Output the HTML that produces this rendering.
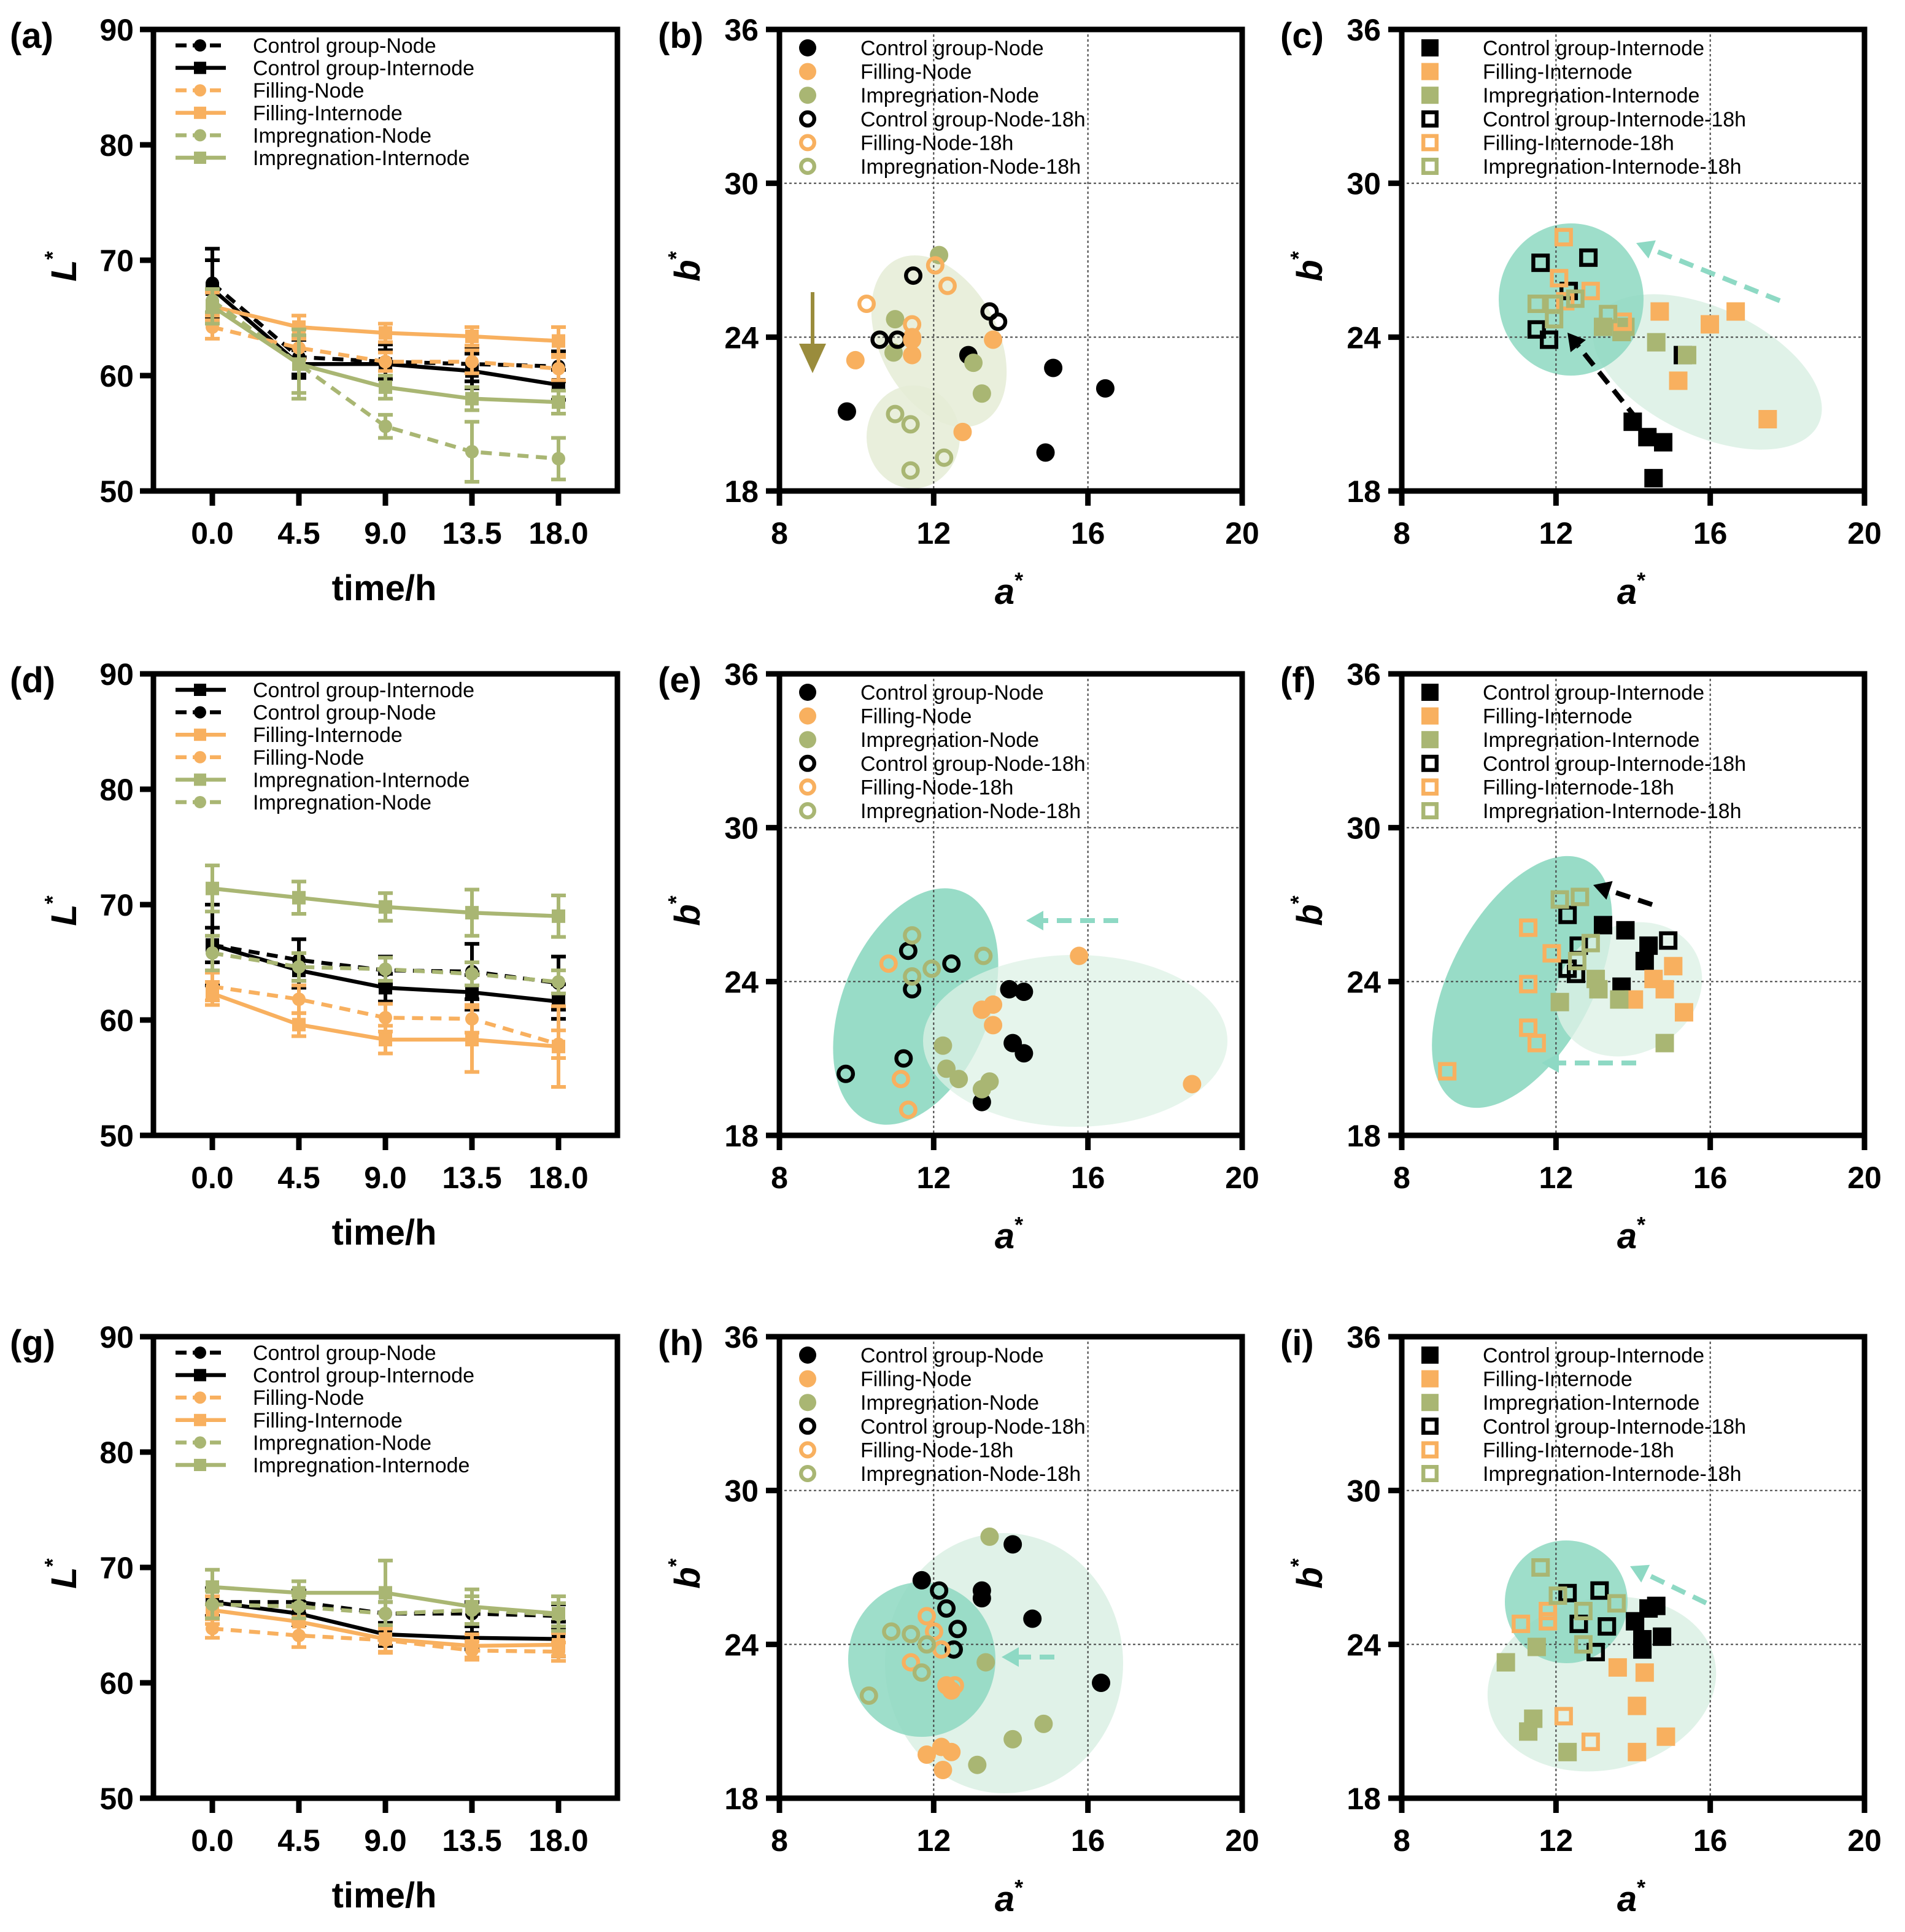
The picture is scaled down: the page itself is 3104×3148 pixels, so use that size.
<!DOCTYPE html>
<html><head><meta charset="utf-8">
<style>
html,body{margin:0;padding:0;background:#fff;}
svg{display:block;font-family:"Liberation Sans",Arial,sans-serif;}
</style></head>
<body>
<svg id="fig" xmlns="http://www.w3.org/2000/svg" width="3104" height="3148" viewBox="0 0 1552 1574"></svg>
<script>
// ---------- line chart data (L* vs time) ----------
const times = [0, 4.5, 9, 13.5, 18];
const timeLabels = ["0.0", "4.5", "9.0", "13.5", "18.0"];
const lTicks = [50, 60, 70, 80, 90];
// panel a
const aCtrlNode = [68, 61.6, 61.2, 61, 60.8];
const aCtrlInter = [67.5, 61, 61, 60.4, 59.2];
const aFillNode = [64.2, 62.4, 61.2, 61.2, 60.6];
const aFillInter = [66, 64.2, 63.7, 63.4, 63];
const aImpNode = [66.5, 61, 55.6, 53.4, 52.8];
const aImpInter = [66, 61, 59, 58, 57.7];
const aErrCtrlNode = [3, 1.5, 1.5, 1.5, 1.3];
const aErrCtrlInter = [2.5, 1.2, 1.2, 1.5, 1.3];
const aErrFillNode = [1, 1, 0.8, 1, 1];
const aErrFillInter = [1.2, 1, 0.8, 0.8, 1.2];
const aErrImpNode = [1, 2.5, 1, 2.6, 1.8];
const aErrImpInter = [1.5, 3, 1, 1, 1];
// panel d
const dCtrlInter = [66.5, 64.3, 62.8, 62.4, 61.6];
const dCtrlNode = [66.5, 65.2, 64.3, 64.2, 63.2];
const dFillInter = [62.3, 59.6, 58.3, 58.3, 57.7];
const dFillNode = [62.9, 61.8, 60.2, 60.1, 57.9];
const dImpInter = [71.4, 70.6, 69.8, 69.3, 69.0];
const dImpNode = [65.8, 64.6, 64.4, 64.0, 63.3];
const dErrCtrlInter = [1.5, 1.5, 1.2, 1.5, 1.5];
const dErrCtrlNode = [3.5, 1.8, 1.2, 2.4, 2.3];
const dErrFillInter = [1, 1, 1.2, 2.8, 3.5];
const dErrFillNode = [1.2, 1.2, 1.2, 1.2, 1.2];
const dErrImpInter = [2, 1.4, 1.2, 2, 1.8];
const dErrImpNode = [1.5, 1.2, 1, 1, 1];
// panel g
const gCtrlNode = [67, 67, 66, 66, 65.8];
const gCtrlInter = [67, 66, 64.2, 63.9, 63.8];
const gFillNode = [64.7, 64.1, 63.7, 62.8, 62.7];
const gFillInter = [66.3, 65.3, 63.8, 63.2, 63.3];
const gImpNode = [66.8, 66.6, 66, 66.3, 65.9];
const gImpInter = [68.3, 67.8, 67.8, 66.6, 66];
const gErrCtrlNode = [1.2, 1, 1, 1, 1];
const gErrCtrlInter = [1.2, 1, 1, 1, 1.5];
const gErrFillNode = [0.8, 1, 1, 0.8, 0.8];
const gErrFillInter = [1.2, 1.2, 1.2, 1, 1];
const gErrImpNode = [1.2, 1, 1, 1.2, 1];
const gErrImpInter = [1.5, 1, 2.8, 1.5, 1.5];

// ---------- scatter data (a*, b*) ----------
const aTicks = [8, 12, 16, 20];
const bTicks = [18, 24, 30, 36];
// panel b (Node)
const bCtrlA = [9.75, 12.9, 15.1, 16.45, 14.9];       const bCtrlB = [21.1, 23.3, 22.8, 22.0, 19.5];
const bFillA = [9.97, 11.44, 11.44, 13.54, 12.75];    const bFillB = [23.1, 23.3, 24.0, 23.9, 20.3];
const bImpA = [12.14, 11.0, 10.96, 13.03, 13.25];     const bImpB = [27.2, 24.7, 23.4, 23.0, 21.8];
const bCtrl18A = [11.47, 10.6, 11.06, 13.45, 13.67];  const bCtrl18B = [26.4, 23.9, 23.9, 25.0, 24.6];
const bFill18A = [10.26, 12.04, 12.36, 11.44, 11.44]; const bFill18B = [25.3, 26.8, 26.0, 24.5, 23.9];
const bImp18A = [11.0, 11.4, 11.4, 12.27];            const bImp18B = [21.0, 20.6, 18.8, 19.3];
// panel c (Internode)
const cCtrlA = [13.99, 14.37, 14.78, 14.53, 15.29];   const cCtrlB = [20.7, 20.1, 19.9, 18.5, 23.3];
const cFillA = [14.69, 15.99, 16.66, 15.17, 17.49];   const cFillB = [25.0, 24.5, 25.0, 22.3, 20.8];
const cImpA = [13.22, 13.7, 13.8, 14.6, 15.4];        const cImpB = [24.4, 24.2, 24.4, 23.8, 23.3];
const cCtrl18A = [11.6, 12.84, 12.33, 11.5, 11.82];   const cCtrl18B = [26.9, 27.1, 25.8, 24.3, 23.9];
const cFill18A = [12.2, 12.08, 12.9, 13.73, 12.24];   const cFill18B = [27.9, 26.3, 25.8, 24.6, 25.4];
const cImp18A = [11.5, 11.95, 12.5, 11.95, 13.35];    const cImp18B = [25.3, 25.3, 25.5, 24.7, 24.9];
// panel e (Node)
const eCtrlA = [13.96, 14.34, 14.05, 14.34, 13.25];   const eCtrlB = [23.7, 23.6, 21.6, 21.2, 19.3];
const eFillA = [15.77, 13.25, 13.54, 13.54, 18.7];    const eFillB = [25.0, 22.9, 23.1, 22.3, 20.0];
const eImpA = [12.24, 12.33, 12.65, 13.45, 13.25];    const eImpB = [21.5, 20.6, 20.2, 20.1, 19.8];
const eCtrl18A = [11.34, 12.46, 11.44, 11.22, 9.72];  const eCtrl18B = [25.2, 24.7, 23.7, 21.0, 20.4];
const eFill18A = [10.83, 11.15, 11.34];               const eFill18B = [24.7, 20.2, 19.0];
const eImp18A = [11.44, 11.95, 11.44, 13.29];         const eImp18B = [25.8, 24.5, 24.2, 25.0];
// panel f (Internode)
const fCtrlA = [13.22, 13.8, 14.4, 14.3, 13.7];       const fCtrlB = [26.2, 26.0, 25.4, 24.8, 23.8];
const fFillA = [15.04, 14.53, 14.82, 14.02, 15.32];   const fFillB = [24.6, 24.1, 23.7, 23.3, 22.8];
const fImpA = [13.03, 13.1, 12.1, 13.64, 14.82];      const fImpB = [24.1, 23.7, 23.2, 23.3, 21.6];
const fCtrl18A = [12.3, 12.59, 12.3, 12.52, 14.91];   const fCtrl18B = [26.6, 25.4, 24.5, 24.3, 25.6];
const fFill18A = [11.28, 11.89, 11.28, 11.28, 11.5, 9.18]; const fFill18B = [26.1, 25.1, 23.9, 22.2, 21.6, 20.5];
const fImp18A = [12.1, 12.62, 12.9, 12.55];           const fImp18B = [27.2, 27.3, 25.5, 24.8];
// panel h (Node)
const hCtrlA = [14.05, 11.69, 13.25, 13.25, 14.56, 16.34]; const hCtrlB = [27.9, 26.5, 26.1, 25.8, 25.0, 22.5];
const hFillA = [12.33, 12.46, 11.82, 12.2, 12.46, 12.24];  const hFillB = [22.4, 22.2, 19.7, 20.0, 19.8, 19.1];
const hImpA = [13.45, 13.35, 14.85, 14.05, 13.13];    const hImpB = [28.2, 23.3, 20.9, 20.3, 19.3];
const hCtrl18A = [12.14, 12.33, 12.62, 12.52];        const hCtrl18B = [26.1, 25.4, 24.6, 23.8];
const hFill18A = [11.82, 12.01, 12.2, 11.41, 12.55];  const hFill18B = [25.1, 24.5, 23.8, 23.3, 22.4];
const hImp18A = [10.9, 11.41, 11.82, 11.69, 10.32];   const hImp18B = [24.5, 24.4, 24.0, 22.9, 22.0];
// panel i (Internode)
const iCtrlA = [14.6, 14.4, 14.05, 14.75, 14.24, 14.24]; const iCtrlB = [25.5, 25.4, 24.9, 24.3, 24.2, 23.8];
const iFillA = [13.6, 14.3, 14.1, 14.85, 14.1];       const iFillB = [23.1, 22.9, 21.6, 20.4, 19.8];
const iImpA = [11.5, 10.7, 11.41, 11.28, 12.3];       const iImpB = [23.9, 23.3, 21.1, 20.6, 19.8];
const iCtrl18A = [12.3, 13.13, 12.59, 13.32, 13.03];  const iCtrl18B = [26.0, 26.1, 24.8, 24.7, 23.7];
const iFill18A = [11.09, 11.79, 11.79, 12.2, 12.9];   const iFill18B = [24.8, 25.3, 24.9, 21.2, 20.2];
const iImp18A = [11.6, 12.05, 12.71, 13.57, 12.71];   const iImp18B = [27.0, 25.9, 25.3, 25.6, 24.0];

// ---------- rendering ----------
const NS = 'http://www.w3.org/2000/svg';
const svg = document.getElementById('fig');
const BLACK = '#000', ORANGE = '#F8B05F', GREEN = '#A9B673';
const TEAL_D = '#8DD8C1', TEAL_L = '#DDF1E6', OLIVE_L = '#E5ECD6', TEAL_ARROW = '#8ED9C4';

function mk(tag, parent, props) {
  const e = document.createElementNS(NS, tag);
  for (const k in props) e.setAttribute(k, props[k]);
  (parent || svg).appendChild(e);
  return e;
}
function txt(parent, x, y, s, size, weight, anchor, extra) {
  const t = mk('text', parent, Object.assign({x: x, y: y, 'font-size': size, 'font-weight': weight || 'normal', 'text-anchor': anchor || 'start', fill: '#000'}, extra || {}));
  t.textContent = s;
  return t;
}
function starLabel(parent, x, y, letter, rotate) {
  const t = mk('text', parent, {x: x, y: y, 'font-size': 29, 'font-weight': 'bold', 'font-style': 'italic', 'text-anchor': 'middle', fill: '#000'});
  if (rotate) t.setAttribute('transform', 'rotate(-90 ' + x + ' ' + y + ')');
  const t1 = mk('tspan', t, {});
  t1.textContent = letter;
  const t2 = mk('tspan', t, {'font-size': 18, dy: -13, 'font-style': 'normal'});
  t2.textContent = '*';
  return t;
}
function marker(parent, x, y, shape, color, open, size) {
  let m;
  if (shape === 'circle') {
    if (open) m = mk('circle', parent, {cx: x, cy: y, r: size - 1.6, fill: 'none', stroke: color, 'stroke-width': 3.2});
    else m = mk('circle', parent, {cx: x, cy: y, r: size, fill: color});
  } else {
    const s = size;
    if (open) m = mk('rect', parent, {x: x - s + 1.6, y: y - s + 1.6, width: 2 * s - 3.2, height: 2 * s - 3.2, fill: 'none', stroke: color, 'stroke-width': 3.2});
    else m = mk('rect', parent, {x: x - s, y: y - s, width: 2 * s, height: 2 * s, fill: color});
  }
  return m;
}
function arrow(parent, x1, y1, x2, y2, color, name) {
  const g = mk('g', parent, {});
  
  
  const ang = Math.atan2(y2 - y1, x2 - x1);
  const hl = 14, hw = 8;
  const bx = x2 - hl * Math.cos(ang), by = y2 - hl * Math.sin(ang);
  mk('line', g, {x1: x1, y1: y1, x2: bx, y2: by, stroke: color, 'stroke-width': 4, 'stroke-dasharray': '12,7'});
  const px = -Math.sin(ang) * hw, py = Math.cos(ang) * hw;
  mk('polygon', g, {points: x2 + ',' + y2 + ' ' + (bx + px) + ',' + (by + py) + ' ' + (bx - px) + ',' + (by - py), fill: color});
}
function frame(g, L, T, R, B) {
  mk('rect', g, {x: L, y: T, width: R - L, height: B - T, fill: 'none', stroke: '#000', 'stroke-width': 4.5});
}

// ---- line chart ----
function lineChart(id, label, top, series) {
  const L = 125, R = 503, T = top, B = top + 376;
  const g = mk('g', svg, {});
  
  
  const xs = t => 173 + t * (455 - 173) / 18;
  const ys = v => B - (v - 50) * (B - T) / 40;
  frame(g, L, T, R, B);
  lTicks.forEach(v => {
    mk('line', g, {x1: L - 11, y1: ys(v), x2: L, y2: ys(v), stroke: '#000', 'stroke-width': 4.5});
    const t = txt(g, 109, ys(v) + 9, String(v), 25, 'bold', 'end');
    
    
  });
  times.forEach((tm, i) => {
    mk('line', g, {x1: xs(tm), y1: B, x2: xs(tm), y2: B + 12, stroke: '#000', 'stroke-width': 4.5});
    const t = txt(g, xs(tm), B + 43, timeLabels[i], 25, 'bold', 'middle');
    
    
  });
  const pl = txt(g, 8, T + 15, label, 29, 'bold', 'start');
  
  
  const yl = starLabel(g, 62, (T + B) / 2 + 5, 'L', true);
  
  
  const xl = txt(g, 313, B + 89, 'time/h', 29, 'bold', 'middle');
  
  
  series.forEach((s, k) => {
    const sg = mk('g', g, {});
    
    
    const pts = s.vals.map((v, i) => xs(times[i]) + ',' + ys(v)).join(' ');
    mk('polyline', sg, {points: pts, fill: 'none', stroke: s.color, 'stroke-width': 3.2, 'stroke-dasharray': s.dash ? '9,6' : 'none'});
    s.vals.forEach((v, i) => {
      const x = xs(times[i]), e = s.err[i];
      mk('line', sg, {x1: x, y1: ys(v - e), x2: x, y2: ys(v + e), stroke: s.color, 'stroke-width': 3});
      mk('line', sg, {x1: x - 6, y1: ys(v - e), x2: x + 6, y2: ys(v - e), stroke: s.color, 'stroke-width': 3});
      mk('line', sg, {x1: x - 6, y1: ys(v + e), x2: x + 6, y2: ys(v + e), stroke: s.color, 'stroke-width': 3});
      const m = marker(sg, x, ys(v), s.dash ? 'circle' : 'square', s.color, false, 5.5);
      
      
    });
    const ly = T + 13 + k * 18.3;
    const lg = mk('g', g, {});
    
    
    mk('line', lg, {x1: 143, y1: ly, x2: 184, y2: ly, stroke: s.color, 'stroke-width': 3.2, 'stroke-dasharray': s.dash ? '9,5' : 'none'});
    marker(lg, 163, ly, s.dash ? 'circle' : 'square', s.color, false, 5);
    txt(lg, 206, ly + 6, s.name, 17, 'normal', 'start');
  });
}

lineChart('a', '(a)', 24, [
  {name: 'Control group-Node', vals: aCtrlNode, err: aErrCtrlNode, color: BLACK, dash: true},
  {name: 'Control group-Internode', vals: aCtrlInter, err: aErrCtrlInter, color: BLACK, dash: false},
  {name: 'Filling-Node', vals: aFillNode, err: aErrFillNode, color: ORANGE, dash: true},
  {name: 'Filling-Internode', vals: aFillInter, err: aErrFillInter, color: ORANGE, dash: false},
  {name: 'Impregnation-Node', vals: aImpNode, err: aErrImpNode, color: GREEN, dash: true},
  {name: 'Impregnation-Internode', vals: aImpInter, err: aErrImpInter, color: GREEN, dash: false}
]);
lineChart('d', '(d)', 549, [
  {name: 'Control group-Internode', vals: dCtrlInter, err: dErrCtrlInter, color: BLACK, dash: false},
  {name: 'Control group-Node', vals: dCtrlNode, err: dErrCtrlNode, color: BLACK, dash: true},
  {name: 'Filling-Internode', vals: dFillInter, err: dErrFillInter, color: ORANGE, dash: false},
  {name: 'Filling-Node', vals: dFillNode, err: dErrFillNode, color: ORANGE, dash: true},
  {name: 'Impregnation-Internode', vals: dImpInter, err: dErrImpInter, color: GREEN, dash: false},
  {name: 'Impregnation-Node', vals: dImpNode, err: dErrImpNode, color: GREEN, dash: true}
]);
lineChart('g', '(g)', 1089, [
  {name: 'Control group-Node', vals: gCtrlNode, err: gErrCtrlNode, color: BLACK, dash: true},
  {name: 'Control group-Internode', vals: gCtrlInter, err: gErrCtrlInter, color: BLACK, dash: false},
  {name: 'Filling-Node', vals: gFillNode, err: gErrFillNode, color: ORANGE, dash: true},
  {name: 'Filling-Internode', vals: gFillInter, err: gErrFillInter, color: ORANGE, dash: false},
  {name: 'Impregnation-Node', vals: gImpNode, err: gErrImpNode, color: GREEN, dash: true},
  {name: 'Impregnation-Internode', vals: gImpInter, err: gErrImpInter, color: GREEN, dash: false}
]);

// ---- scatter chart ----
function scatter(id, label, L, top, shape, series, ellipses, arrows) {
  const R = L + 377, T = top, B = top + 376;
  const g = mk('g', svg, {});
  
  
  const xs = a => L + (a - 8) * (R - L) / 12;
  const ys = b => B - (b - 18) * (B - T) / 18;
  ellipses.forEach(e => {
    const el = mk('ellipse', g, {cx: e[0], cy: e[1], rx: e[2], ry: e[3], fill: e[5], 'fill-opacity': e[6], transform: 'rotate(' + e[4] + ' ' + e[0] + ' ' + e[1] + ')'});
    
    
  });
  [12, 16].forEach(a => mk('line', g, {x1: xs(a), y1: T, x2: xs(a), y2: B, stroke: '#444', 'stroke-width': 1, 'stroke-dasharray': '2,2'}));
  [24, 30].forEach(b => mk('line', g, {x1: L, y1: ys(b), x2: R, y2: ys(b), stroke: '#444', 'stroke-width': 1, 'stroke-dasharray': '2,2'}));
  frame(g, L, T, R, B);
  bTicks.forEach(v => {
    mk('line', g, {x1: L - 11, y1: ys(v), x2: L, y2: ys(v), stroke: '#000', 'stroke-width': 4.5});
    const t = txt(g, L - 17, ys(v) + 9, String(v), 25, 'bold', 'end');
    
    
  });
  aTicks.forEach(v => {
    mk('line', g, {x1: xs(v), y1: B, x2: xs(v), y2: B + 12, stroke: '#000', 'stroke-width': 4.5});
    const t = txt(g, xs(v), B + 43, String(v), 25, 'bold', 'middle');
    
    
  });
  const pl = txt(g, L - 99, T + 15, label, 29, 'bold', 'start');
  
  
  const yl = starLabel(g, L - 65, (T + B) / 2 + 5, 'b', true);
  
  
  const xl = starLabel(g, L + 187, B + 92, 'a', false);
  
  
  series.forEach((s, k) => {
    const sg = mk('g', g, {});
    
    
    s.a.forEach((av, i) => {
      const m = marker(sg, xs(av), ys(s.b[i]), shape, s.color, s.open, 7.5);
      
      
    });
    const ly = T + 15 + k * 19.3;
    const lg = mk('g', g, {});
    
    
    marker(lg, L + 23, ly, shape, s.color, s.open, 7);
    txt(lg, L + 66, ly + 6, s.name, 17, 'normal', 'start');
  });
  arrows.forEach(a => arrow(g, a[0], a[1], a[2], a[3], a[4], 'trend-arrow'));
  return g;
}

function S(name, a, b, color, open) { return {name: name, a: a, b: b, color: color, open: open}; }

const pb = scatter('b', '(b)', 635, 24, 'circle', [
  S('Control group-Node', bCtrlA, bCtrlB, BLACK, false),
  S('Filling-Node', bFillA, bFillB, ORANGE, false),
  S('Impregnation-Node', bImpA, bImpB, GREEN, false),
  S('Control group-Node-18h', bCtrl18A, bCtrl18B, BLACK, true),
  S('Filling-Node-18h', bFill18A, bFill18B, ORANGE, true),
  S('Impregnation-Node-18h', bImp18A, bImp18B, GREEN, true)
], [[765, 278, 48, 75, -28, OLIVE_L, 0.85], [744, 356, 38, 42, 0, OLIVE_L, 0.85]], []);
(function () {
  const g = mk('g', pb, {});
  
  
  mk('line', g, {x1: 662, y1: 238, x2: 662, y2: 282, stroke: '#9A8C3C', 'stroke-width': 3});
  mk('polygon', g, {points: '651,280 673,280 662,304', fill: '#9A8C3C'});
})();

scatter('c', '(c)', 1142, 24, 'square', [
  S('Control group-Internode', cCtrlA, cCtrlB, BLACK, false),
  S('Filling-Internode', cFillA, cFillB, ORANGE, false),
  S('Impregnation-Internode', cImpA, cImpB, GREEN, false),
  S('Control group-Internode-18h', cCtrl18A, cCtrl18B, BLACK, true),
  S('Filling-Internode-18h', cFill18A, cFill18B, ORANGE, true),
  S('Impregnation-Internode-18h', cImp18A, cImp18B, GREEN, true)
], [[1391, 303, 100, 52, 25, TEAL_L, 0.9], [1280, 244, 59, 62, 0, TEAL_D, 0.85]],
 [[1334, 342, 1277, 271, BLACK], [1450, 245, 1333, 198, TEAL_ARROW]]);

scatter('e', '(e)', 635, 549, 'circle', [
  S('Control group-Node', eCtrlA, eCtrlB, BLACK, false),
  S('Filling-Node', eFillA, eFillB, ORANGE, false),
  S('Impregnation-Node', eImpA, eImpB, GREEN, false),
  S('Control group-Node-18h', eCtrl18A, eCtrl18B, BLACK, true),
  S('Filling-Node-18h', eFill18A, eFill18B, ORANGE, true),
  S('Impregnation-Node-18h', eImp18A, eImp18B, GREEN, true)
], [[746, 820, 60, 101, 22, TEAL_D, 0.9], [876, 848, 124, 70, 0, TEAL_L, 0.75]],
 [[911, 750, 836, 750, TEAL_ARROW]]);

scatter('f', '(f)', 1142, 549, 'square', [
  S('Control group-Internode', fCtrlA, fCtrlB, BLACK, false),
  S('Filling-Internode', fFillA, fFillB, ORANGE, false),
  S('Impregnation-Internode', fImpA, fImpB, GREEN, false),
  S('Control group-Internode-18h', fCtrl18A, fCtrl18B, BLACK, true),
  S('Filling-Internode-18h', fFill18A, fFill18B, ORANGE, true),
  S('Impregnation-Internode-18h', fImp18A, fImp18B, GREEN, true)
], [[1240, 800, 58, 112, 28, TEAL_D, 0.9], [1327, 806, 62, 52, -30, TEAL_L, 0.8]],
 [[1346, 737, 1298, 721, BLACK], [1333, 866, 1256, 866, TEAL_ARROW]]);

scatter('h', '(h)', 635, 1089, 'circle', [
  S('Control group-Node', hCtrlA, hCtrlB, BLACK, false),
  S('Filling-Node', hFillA, hFillB, ORANGE, false),
  S('Impregnation-Node', hImpA, hImpB, GREEN, false),
  S('Control group-Node-18h', hCtrl18A, hCtrl18B, BLACK, true),
  S('Filling-Node-18h', hFill18A, hFill18B, ORANGE, true),
  S('Impregnation-Node-18h', hImp18A, hImp18B, GREEN, true)
], [[818, 1355, 97, 106, 0, TEAL_L, 0.9], [751, 1352, 60, 63, 0, TEAL_D, 0.85]],
 [[859, 1350, 816, 1350, TEAL_ARROW]]);

scatter('i', '(i)', 1142, 1089, 'square', [
  S('Control group-Internode', iCtrlA, iCtrlB, BLACK, false),
  S('Filling-Internode', iFillA, iFillB, ORANGE, false),
  S('Impregnation-Internode', iImpA, iImpB, GREEN, false),
  S('Control group-Internode-18h', iCtrl18A, iCtrl18B, BLACK, true),
  S('Filling-Internode-18h', iFill18A, iFill18B, ORANGE, true),
  S('Impregnation-Internode-18h', iImp18A, iImp18B, GREEN, true)
], [[1305, 1372, 94, 70, -12, TEAL_L, 0.9], [1276, 1305, 50, 50, 0, TEAL_D, 0.85]],
 [[1390, 1306, 1328, 1276, TEAL_ARROW]]);
</script>
</body></html>
